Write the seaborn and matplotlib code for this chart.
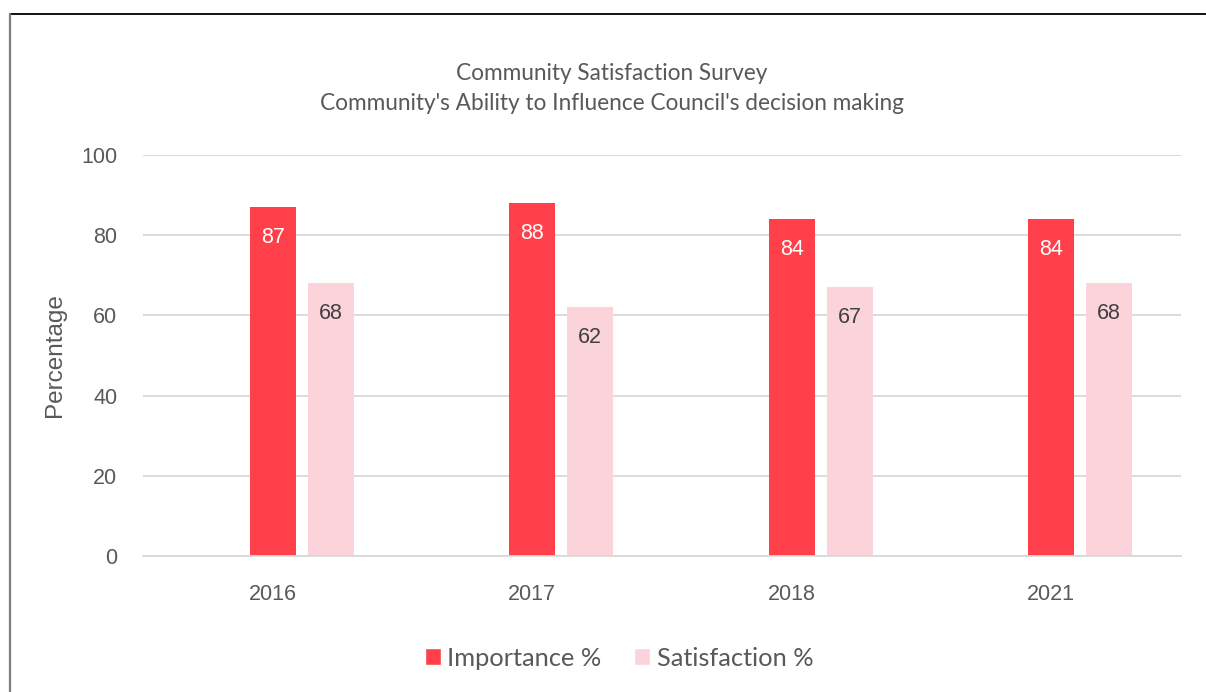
import matplotlib
matplotlib.use("Agg")
import matplotlib.pyplot as plt
from matplotlib.lines import Line2D
import seaborn as sns
import pandas as pd

years = ["2016", "2017", "2018", "2021"]
importance = [87, 88, 84, 84]
satisfaction = [68, 62, 67, 68]
series_names = ["Importance %", "Satisfaction %"]
colors = ["#FF3F4A", "#FBD3DB"]
label_colors = ["#FFFFFF", "#404040"]

df = pd.DataFrame({
    "Year": years * 2,
    "Value": importance + satisfaction,
    "Series": [series_names[0]] * len(years) + [series_names[1]] * len(years),
})

sns.set_theme(style="white")
plt.rcParams["font.family"] = ["Lato", "DejaVu Sans"]
axis_font = ["Liberation Sans", "DejaVu Sans"]
text_grey = "#595959"

W, H = 1206, 692
fig = plt.figure(figsize=(W / 100, H / 100), dpi=100)
ax = fig.add_axes([143 / W, (H - 556) / H, (1181 - 143) / W, (556 - 155) / H])

# dodge spacing between the two bars of a group, in category units
dodge_w = 0.447
sns.barplot(data=df, x="Year", y="Value", hue="Series", palette=colors,
            width=dodge_w, saturation=1, ax=ax, legend=True, errorbar=None)

bar_w = 46 / 259.5
for cont in ax.containers:
    for p in cont:
        c = p.get_x() + p.get_width() / 2
        p.set_width(bar_w)
        p.set_x(c - bar_w / 2)
        p.set_edgecolor("none")

shift = dodge_w / 4
ax.set_xlim(-0.5 - shift, len(years) - 0.5 - shift)
ax.set_ylim(0, 100)

# value labels inside the top of each bar
for cont, lc in zip(ax.containers, label_colors):
    for p in cont:
        v = p.get_height()
        ax.annotate(f"{v:.0f}", xy=(p.get_x() + p.get_width() / 2, v),
                    xytext=(0, -30), textcoords="offset pixels",
                    ha="center", va="center", color=lc, fontsize=15.5,
                    family=axis_font)

ax.set_yticks(range(0, 101, 20))
ax.yaxis.grid(True, color="#D9D9D9", linewidth=1.3)
ax.set_axisbelow(True)
ax.tick_params(axis="y", length=0, pad=18.5, labelsize=15.5, labelcolor=text_grey)

ax.set_xticks([i - shift for i in range(len(years))])
ax.set_xticklabels(years)
ax.tick_params(axis="x", which="major", length=0, pad=20, labelsize=15.5,
               labelcolor=text_grey)
ax.set_xticks([i - 0.5 - shift for i in range(len(years) + 1)], minor=True)
ax.tick_params(axis="x", which="minor", length=7, width=1.3, color="#D9D9D9",
               direction="out")
for lab in ax.get_xticklabels() + ax.get_yticklabels():
    lab.set_family(axis_font)
ax.set_xlabel("")
ax.set_ylabel("Percentage", fontsize=17.5, color=text_grey, labelpad=11,
              family=axis_font)

for s in ["top", "right", "left"]:
    ax.spines[s].set_visible(False)
ax.spines["bottom"].set_color("#D9D9D9")
ax.spines["bottom"].set_linewidth(1.3)

handles, labels = ax.get_legend_handles_labels()
ax.legend_.remove()
fig.legend(handles, labels, loc="center", bbox_to_anchor=(619 / W, 1 - 658 / H),
           ncol=2, frameon=False, fontsize=18.3, handlelength=0.63,
           handleheight=0.63, handletextpad=0.25, columnspacing=1.3,
           labelcolor=text_grey)

fig.text(612 / W, 1 - 73 / H, "Community Satisfaction Survey",
         ha="center", va="center", fontsize=16.3, color=text_grey)
fig.text(612 / W, 1 - 103 / H,
         "Community's Ability to Influence Council's decision making",
         ha="center", va="center", fontsize=16.3, color=text_grey)

# outer frame of the chart area
fig.add_artist(Line2D([10 / W, 1], [1 - 14 / H, 1 - 14 / H],
                      transform=fig.transFigure, color="black", linewidth=1.3))
fig.add_artist(Line2D([10 / W, 10 / W], [0, 1 - 14 / H],
                      transform=fig.transFigure, color="#7F7F7F", linewidth=1.6))

fig.savefig("out.png", dpi=100, facecolor="white")
